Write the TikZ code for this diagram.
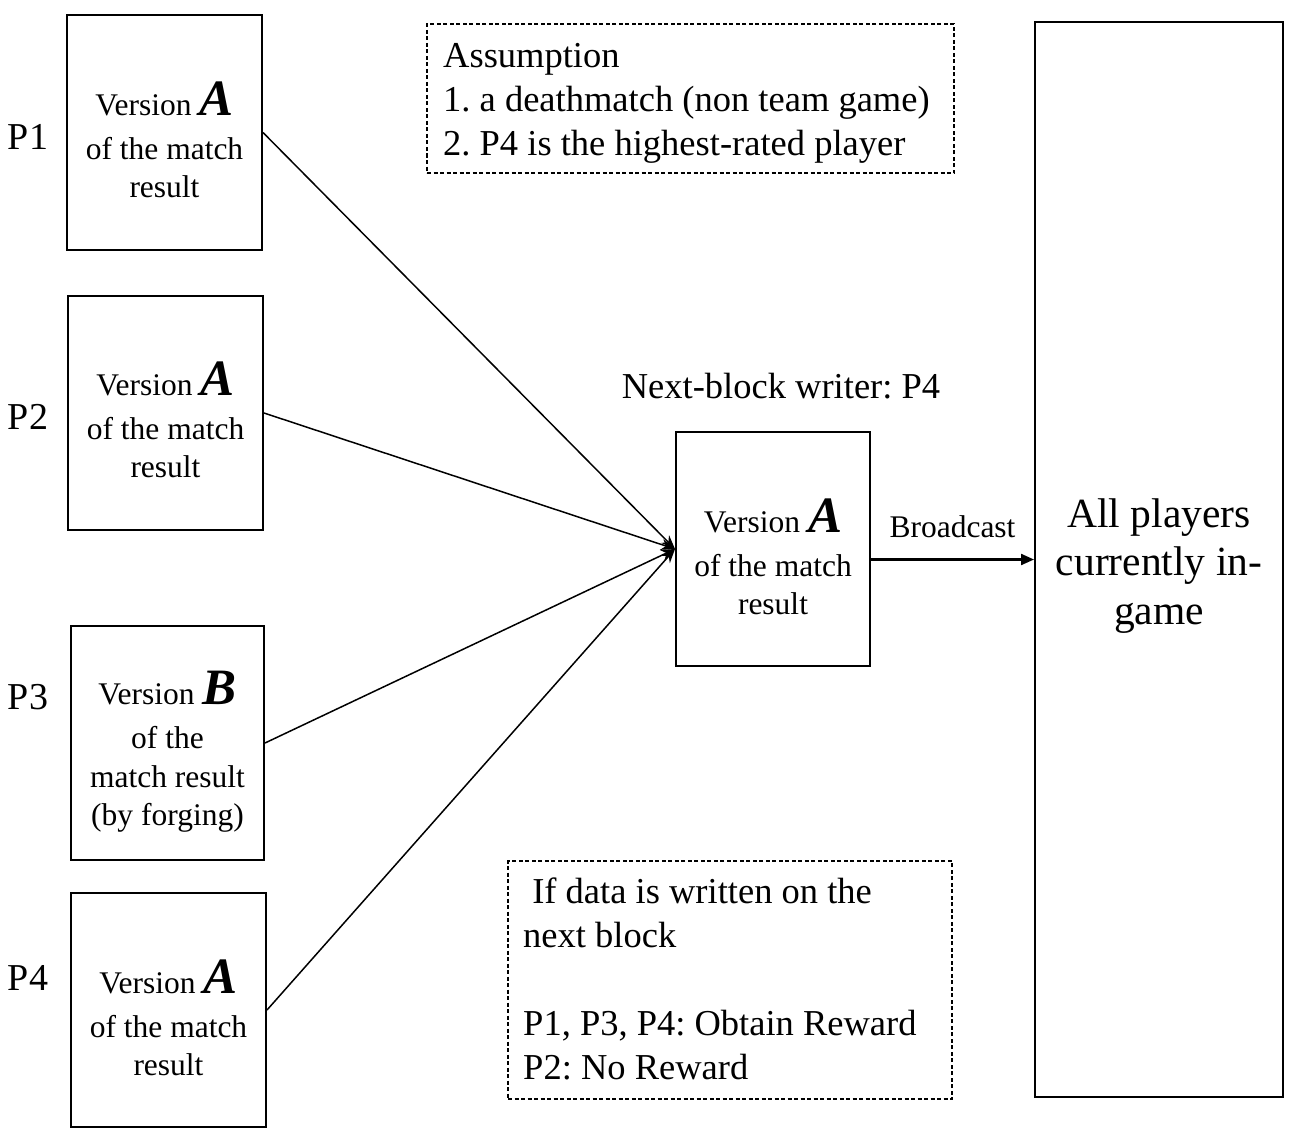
\documentclass[tikz,border=0pt]{standalone}
\usepackage{fontspec}
\setmainfont{Liberation Serif}
\usetikzlibrary{arrows.meta}
\frenchspacing
\newcommand\myBxFont{\fontsize{31.5}{38.5}\selectfont}
\newcommand\myBig{\fontsize{51}{38.5}\selectfont\bfseries\itshape}
\newcommand\myLgFont{\fontsize{36.5}{44}\selectfont}
\begin{document}
\begin{tikzpicture}[x=1pt,y=-1pt,
  box/.style={draw, line width=2pt, inner sep=0pt},
  dbox/.style={draw, line width=1.2pt, dash pattern=on 4pt off 2.5pt, inner sep=0pt},
  btext/.style={align=center, inner sep=0pt, font=\myBxFont},
  ltext/.style={align=left, inner sep=0pt, font=\myLgFont, anchor=north west},
  plabel/.style={inner sep=0pt, font=\fontsize{38}{40}\selectfont},
  conn/.style={line width=1.5pt, -{Stealth[length=14pt,width=11pt]}},
  bcast/.style={line width=2.2pt, -{Triangle[length=13pt,width=11pt]}}]
\useasboundingbox (0,0) rectangle (1301,1143);
% player boxes
\node[box, minimum width=195pt, minimum height=235pt] (b1) at (164.5,132.5) {};
\node[box, minimum width=195pt, minimum height=234pt] (b2) at (165.5,413) {};
\node[box, minimum width=193pt, minimum height=234pt] (b3) at (167.5,743) {};
\node[box, minimum width=195pt, minimum height=234pt] (b4) at (168.5,1010) {};
\node[box, minimum width=194pt, minimum height=234pt] (c) at (773,549) {};
\node[box, minimum width=248pt, minimum height=1075pt] (all) at (1159,559.5) {};
\node[dbox, minimum width=527pt, minimum height=149pt] (d1) at (690.5,98.5) {};
\node[dbox, minimum width=444pt, minimum height=238pt] (d2) at (730,980) {};
% box texts
\node[btext] (t1) at (164.5,140) {Version {\myBig A}\\[5.5pt]of the match\\result};
\node[btext] (t2) at (165.5,420) {Version {\myBig A}\\[5.5pt]of the match\\result};
\node[btext] (t3) at (167.5,752) {Version {\myBig B}\\[5.5pt]of the\\match result\\(by forging)};
\node[btext] (t4) at (168.5,1018) {Version {\myBig A}\\[5.5pt]of the match\\result};
\node[btext] (tc) at (773,557) {Version {\myBig A}\\[5.5pt]of the match\\result};
\node[align=center, inner sep=0pt, font=\fontsize{41.5}{48.5}\selectfont] (tall) at (1159,566) {All players\\currently in-\\game};
% labels
\node[plabel] (p1) at (28,137) {P1};
\node[plabel] (p2) at (28,417) {P2};
\node[plabel] (p3) at (28,697) {P3};
\node[plabel] (p4) at (28,978) {P4};
\node[inner sep=0pt, font=\myLgFont] (nw) at (781,386) {Next-block writer: P4};
\node[ltext] (a1) at (443,43) {Assumption\\1. a deathmatch (non team game)\\2. P4 is the highest-rated player};
\node[ltext] (a2) at (523,878) {\ If data is written on the\\next block\\\mbox{}\\P1, P3, P4: Obtain Reward\\P2: No Reward};
% connectors
\draw[conn] (b1.east) -- (c.west);
\draw[conn] (b2.east) -- (c.west);
\draw[conn] (b3.east) -- (c.west);
\draw[conn] (b4.east) -- (c.west);
\draw[bcast] (c.east |- all.west) -- (all.west) node[midway, above=21pt, inner sep=0pt, font=\fontsize{31.5}{36}\selectfont] (bl) {Broadcast};
\end{tikzpicture}
\end{document}
